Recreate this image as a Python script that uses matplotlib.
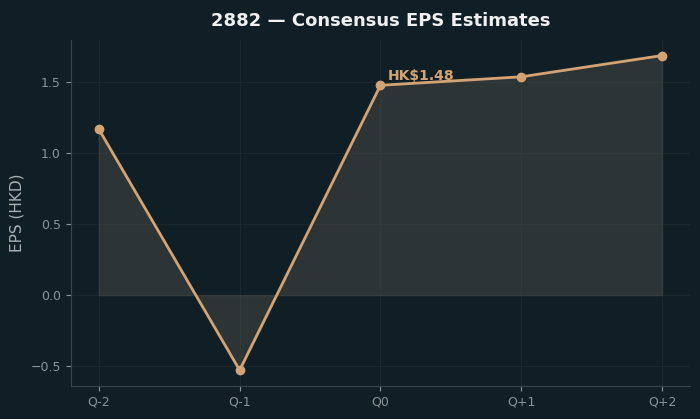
import matplotlib
matplotlib.use("Agg")
import matplotlib.pyplot as plt

quarters = ["Q-2", "Q-1", "Q0", "Q+1", "Q+2"]
eps = [1.17, -0.53, 1.48, 1.54, 1.69]
current_label = "HK$1.48"
current_idx = 2

bg = "#101f26"
line_c = "#d4a373"
tick_c = "#8a9499"

fig, ax = plt.subplots(figsize=(7, 4.19), dpi=100)
fig.patch.set_facecolor(bg)
ax.set_facecolor(bg)

x = list(range(len(quarters)))
ax.fill_between(x, eps, 0, color="#4a4a44", alpha=0.5, linewidth=1, edgecolor="#4a4a44")
ax.plot(x, eps, color=line_c, linewidth=2, marker="o", markersize=6)
ax.annotate(current_label, (x[current_idx], eps[current_idx]), xytext=(5, 4),
            textcoords="offset points", color=line_c, fontsize=10, fontweight="bold")

ax.set_xticks(x)
ax.set_xticklabels(quarters)
ax.set_yticks([-0.5, 0.0, 0.5, 1.0, 1.5])
ax.set_title("2882 — Consensus EPS Estimates", color="#f0f0f0", fontsize=13,
             fontweight="bold", pad=10)
ax.set_ylabel("EPS (HKD)", color="#a8b0b4", fontsize=11)
ax.tick_params(colors=tick_c, labelsize=9)
for s in ["top", "right"]:
    ax.spines[s].set_visible(False)
for s in ["left", "bottom"]:
    ax.spines[s].set_color("#3a4448")
ax.grid(True, color="#18282e", linewidth=0.8)
ax.set_axisbelow(True)

fig.subplots_adjust(left=0.101, right=0.986, top=0.905, bottom=0.079)
fig.savefig("out.png", dpi=100, facecolor=bg)
